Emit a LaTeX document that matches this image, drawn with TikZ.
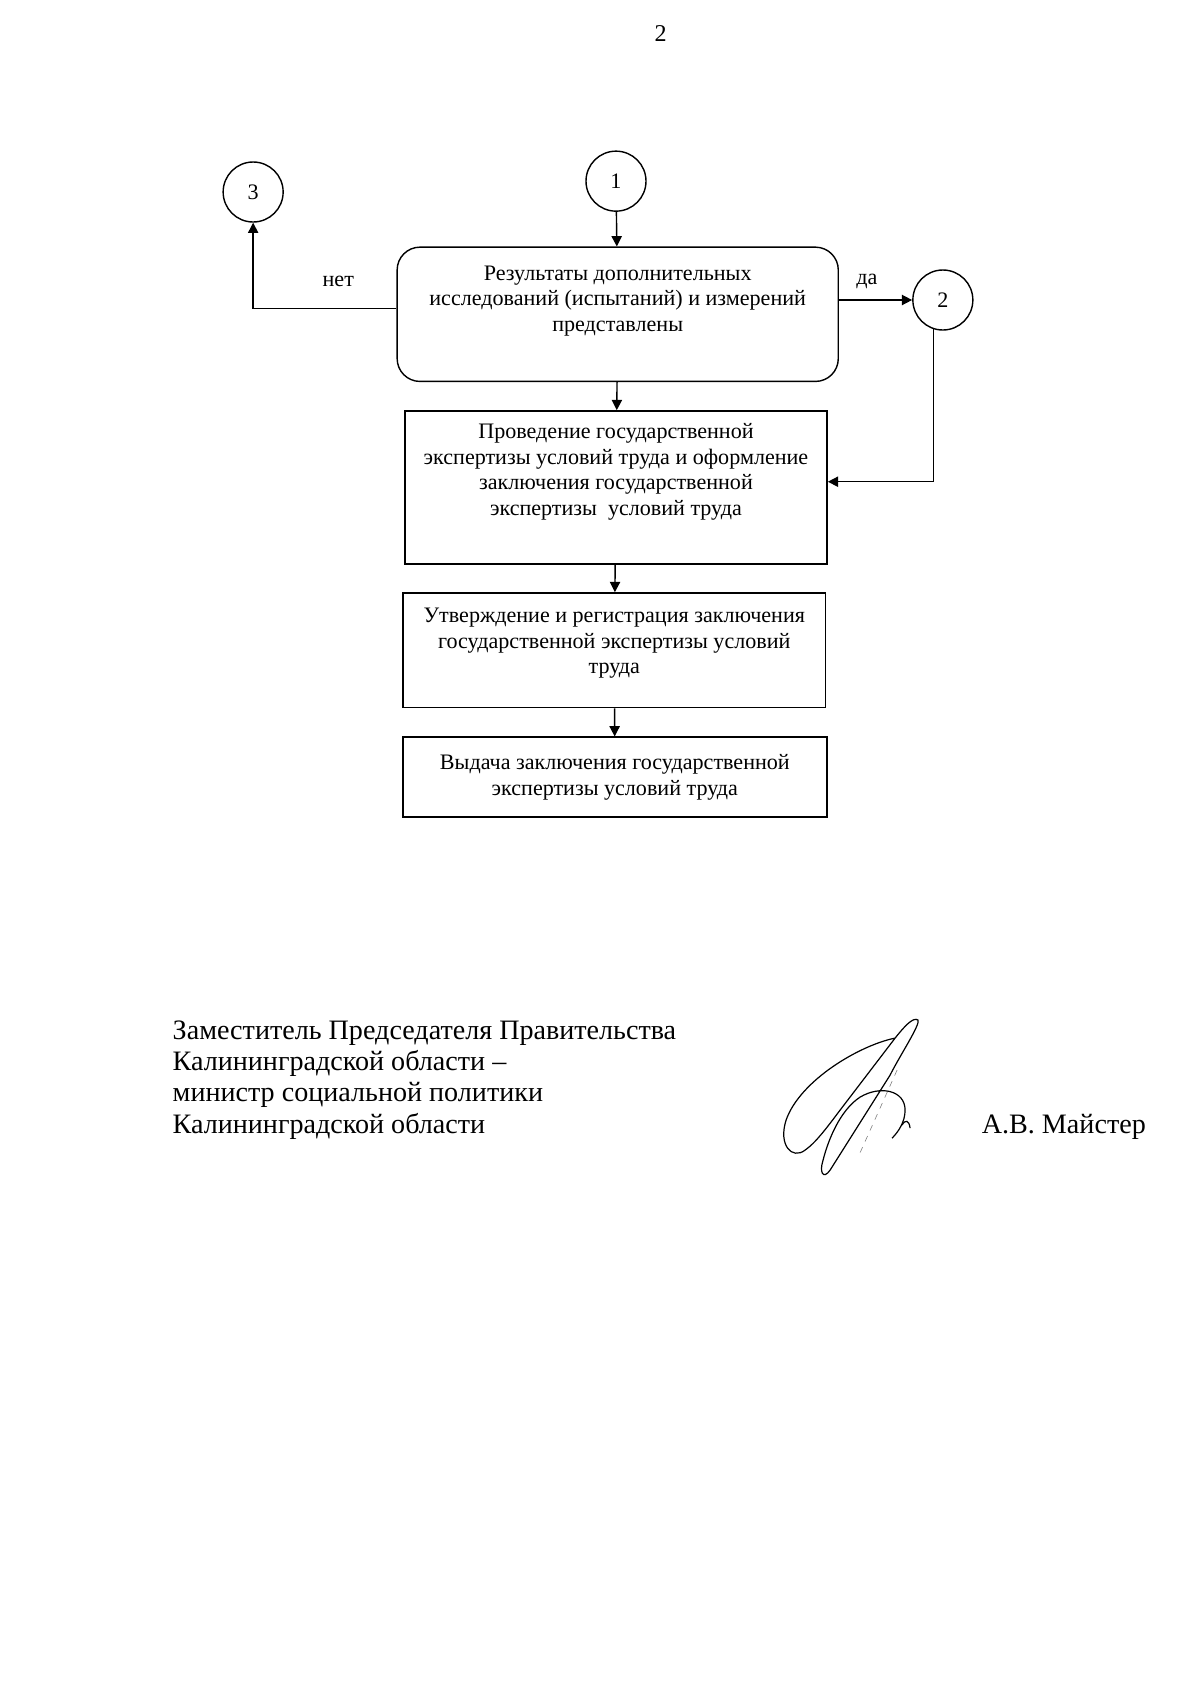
\documentclass[tikz,border=0pt]{standalone}
\usepackage{fontspec}
\setmainfont{Liberation Serif}
\usepackage{tikz}
\usetikzlibrary{arrows.meta, positioning, shapes}

\begin{document}
\begin{tikzpicture}[
    line width=0.7pt,
    boxfont/.style={font=\fontsize{11}{12.65}\selectfont},
    flowbox/.style={draw, rectangle, align=center, boxfont, minimum width=7.39cm, inner sep=2pt},
    roundbox/.style={flowbox, rounded corners=0.4cm},
    linkcircle/.style={draw, circle, boxfont, minimum size=1.05cm, inner sep=0pt},
    flowarrow/.style={-{Triangle[length=1.8mm, width=1.8mm]}},
    signfont/.style={font=\fontsize{14}{15.6}\selectfont}
]
  \useasboundingbox (0,0) rectangle (21,-29.6975);
  \node[font=\fontsize{12}{14}\selectfont] (pagenum) at (11.56,-0.58) {2};

  % decision on the extra measurements
  \node[linkcircle] (link1) at (10.78,-3.17) {1};
  \node[linkcircle] (link3) at (4.43,-3.36) {3};
  \node[linkcircle] (link2) at (16.50,-5.25) {2};
  \node[roundbox, minimum width=7.72cm, minimum height=2.35cm, text depth=0.55cm] (results) at (10.81,-5.50)
      {Результаты дополнительных\\исследований (испытаний) и измерений\\представлены};
  \node[boxfont] (no) at (5.92,-4.93) {нет};
  \node[boxfont] (yes) at (15.17,-4.93) {да};

  % expertise steps
  \node[flowbox, minimum height=2.68cm, text depth=0.63cm] (expertise) at (10.78,-8.53)
      {Проведение государственной\\экспертизы условий труда и оформление\\заключения государственной\\экспертизы\ \ условий труда};
  \node[flowbox, minimum height=2.01cm, text depth=0.33cm] (approval) at (10.75,-11.38)
      {Утверждение и регистрация заключения\\государственной экспертизы условий\\труда};
  \node[flowbox, minimum width=7.42cm, minimum height=1.40cm] (issue) at (10.76,-13.60)
      {Выдача заключения государственной\\экспертизы условий труда};

  % connectors
  \draw[flowarrow] (link1) -- (results);
  \draw[flowarrow] ([yshift=0.1cm]results.west) -| (link3);
  \draw[flowarrow] (results.east |- link2) -- (link2);
  \draw[flowarrow] (link2.-108) |- ([yshift=0.1cm]expertise.east);
  \draw[flowarrow] (results) -- (expertise);
  \draw[flowarrow] (expertise) -- (approval);
  \draw[flowarrow] (approval) -- (issue);

  % signature block
  \node[signfont, align=left, anchor=base west, inner sep=0pt] (post) at (3.01,-19.83)
      {Заместитель Председателя Правительства\\Калининградской области –\\министр социальной политики\\Калининградской области};
  \node[signfont, anchor=base west, inner sep=0pt] (name) at (17.17,-19.83) {А.В. Майстер};
  \begin{scope}[x=0.0175cm, y=-0.0175cm, line width=0.6pt]
    \draw (895,1038) .. controls (860,1045) and (800,1080) .. (786,1120)
          .. controls (778,1145) and (792,1160) .. (805,1150)
          .. controls (815,1143) and (825,1130) .. (840,1110) -- (895,1038);
    \draw (895,1038) .. controls (903,1028) and (913,1016) .. (918,1020)
          .. controls (920,1025) and (900,1055) .. (890,1075) -- (830,1170)
          .. controls (823,1180) and (819,1172) .. (823,1160)
          .. controls (828,1140) and (840,1110) .. (860,1097)
          .. controls (880,1085) and (905,1090) .. (905,1110)
          .. controls (905,1122) and (898,1132) .. (892,1138);
    \draw (902,1125) .. controls (905,1119) and (909,1120) .. (910,1128);
    \draw[gray, line width=0.3pt, dashed] (897,1070) -- (858,1157);
  \end{scope}
\end{tikzpicture}
\end{document}
